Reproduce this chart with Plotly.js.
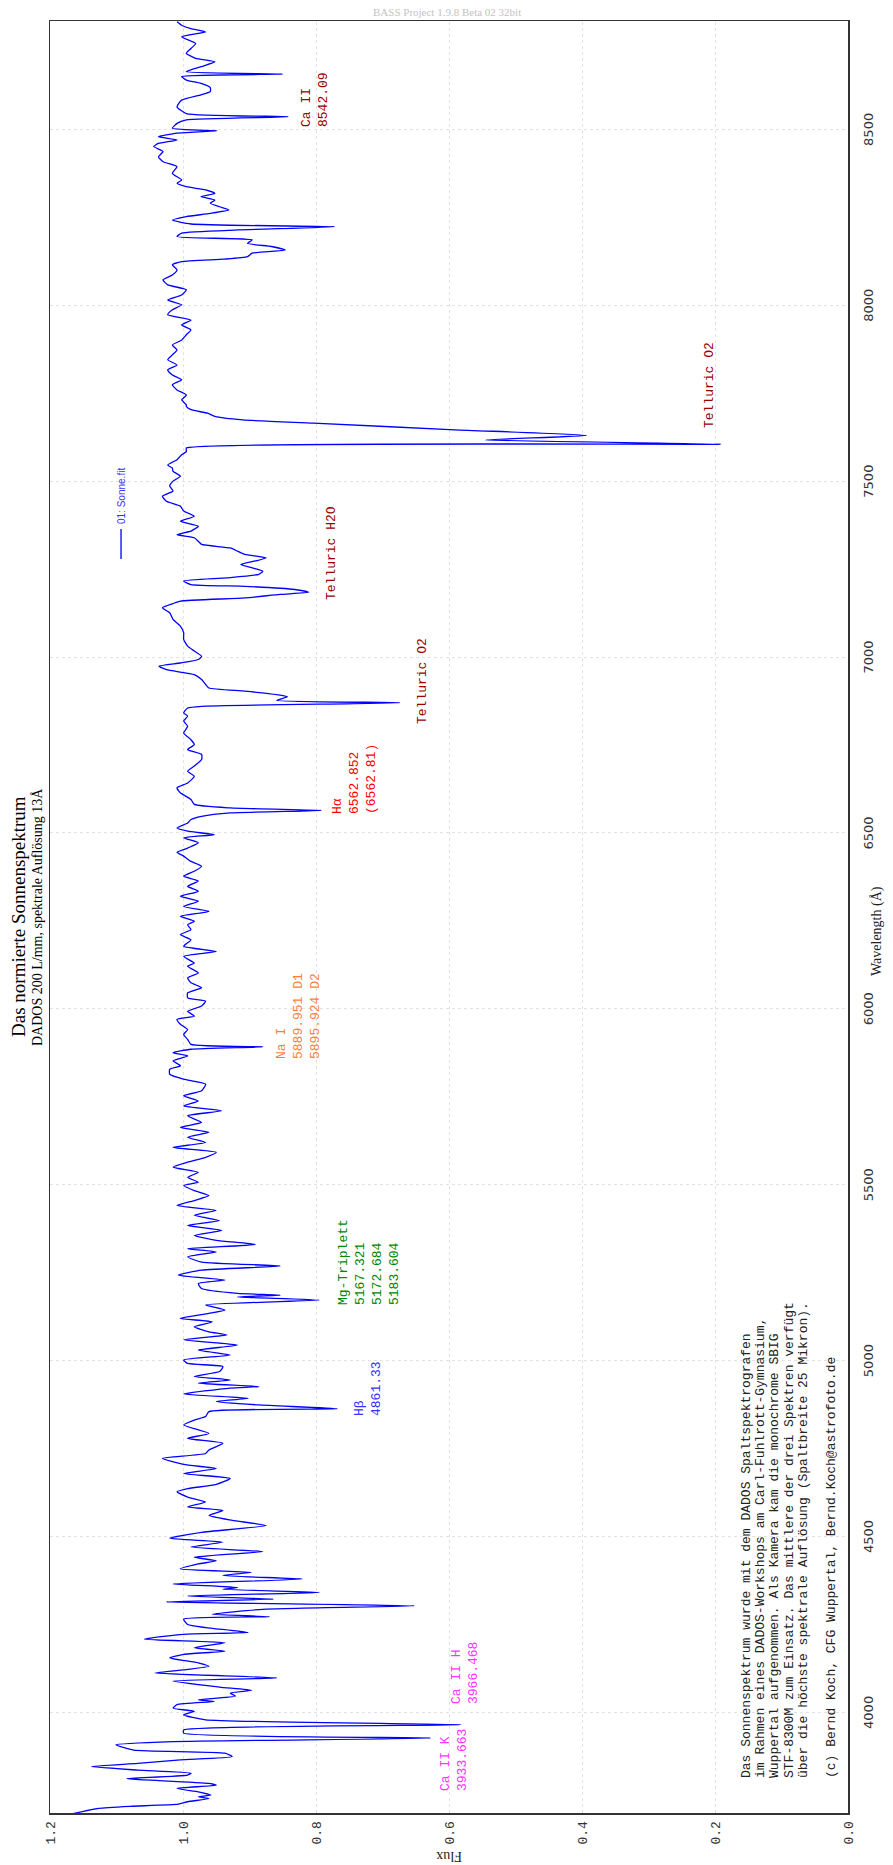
<!DOCTYPE html>
<html><head><meta charset="utf-8">
<script src="https://cdn.plot.ly/plotly-3.0.1.min.js"></script>
<style>
html,body{margin:0;padding:0;width:893px;height:1865px;overflow:hidden;background:#fff;}
#wrap{position:absolute;left:0;top:0;width:1865px;height:893px;transform-origin:0 0;transform:translate(0px,1865px) rotate(-90deg);}
</style></head><body>
<div id="wrap"><div id="chart" style="width:1865px;height:893px;"></div></div>
<script>
// Wavelength (Angstrom) and normalised flux
const wavelength = [
3712,3727,3733,3739,3746,3755,3760,3765,3774,3784,3793,3798,3808,3812,3822,3827,3836,3846,3855,3865,
3874,3884,3893,3908,3917,3927,3941,3950,3965,3979,3993,4003,4012,4022,4031,4036,4046,4055,4063,4072,
4089,4098,4112,4122,4131,4141,4155,4165,4174,4184,4198,4208,4222,4227,4241,4250,4265,4272,4279,4293,
4303,4314,4322,4331,4341,4350,4355,4365,4379,4389,4398,4408,4422,4431,4441,4457,4470,4484,4495,4512,
4531,4546,4560,4574,4584,4598,4612,4627,4636,4648,4665,4679,4693,4705,4722,4736,4746,4765,4779,4793,
4817,4831,4841,4855,4863,4874,4884,4893,4905,4922,
4926,4936,4945,4955,4969,4983,4992,5002,5016,5030,5044,5059,5073,5082,5096,5110,5120,5134,5144,5158,
5172,5181,5186,5191,5205,5219,5229,5243,5257,5269,5280,5295,5309,5318,5330,5342,5356,5370,5384,5398,
5413,5427,5441,5455,5469,5483,5498,5507,5521,5535,5550,5564,5578,5592,5606,5620,5635,5649,5663,5677,
5696,5710,5724,5738,5753,5767,5786,5800,5814,5828,5838,5852,5866,5875,5885,5892,5899,5913,5927,5941,
5956,5970,5979,5993,6008,6022,6031,6045,6060,6074,6088,6102,6121,6130,6149,6163,6178,6196,6211,6225,
6239,
6249,6263,6277,6291,6306,6320,6334,6348,6363,6377,6391,6405,6419,6434,6445,6457,6472,6486,6495,6505,
6514,6528,6538,6547,6557,6564,6571,6581,6595,6614,6628,6642,6661,6675,6690,6709,6723,6737,6751,6765,
6784,6803,6818,6832,6841,6855,6860,6870,6877,6887,6893,6903,6912,6922,6936,6950,6964,6974,6983,6993,
7002,7017,7031,7050,7069,7088,7107,7126,7140,7152,7159,7168,7178,7184,7192,7201,7206,7216,7225,7235,
7244,7254,7263,7273,7282,7292,7301,7310,7320,7329,7339,7348,7358,7372,7386,7400,7415,7429,7443,7457,
7472,7486,7500,7514,7528,
7537,7546,7561,7575,7584,7594,7605,7617,7630,7646,7665,7674,7684,7693,7703,7712,7717,7731,7745,7759,
7774,7788,7802,7816,7830,7845,7859,7873,7887,7901,7916,7930,7944,7958,7973,7987,8001,8015,8029,8044,
8058,8072,8086,8100,8115,8124,8131,8138,8148,8157,8167,8176,8186,8195,8205,8214,8223,8231,8242,8252,
8261,8271,8280,8290,8299,8309,8318,8328,8337,8347,8356,8375,8394,8408,8422,8437,8451,8460,8470,8479,
8489,8496,8503,8517,8527,8536,8545,8564,8583,8598,8607,8619,8631,8640,8650,8657,8664,8678,8692,8702,
8716,8730,8744,8763,8777,8786,8796,8806
];
const flux = [
1.166,1.127,1.079,1.007,0.993,0.961,0.977,0.958,0.977,1.009,0.950,0.961,1.058,1.085,0.993,0.988,1.068,1.138,1.068,1.004,
0.926,0.937,1.074,1.101,1.015,0.628,0.999,0.999,0.582,0.966,0.999,0.983,1.015,1.009,0.953,0.977,0.921,0.929,0.897,0.945,
1.015,0.859,1.042,0.993,0.961,0.977,1.020,0.999,0.937,0.983,0.937,1.058,0.999,0.902,0.966,0.993,0.999,0.870,0.956,0.880,
0.652,1.025,0.864,0.993,0.795,0.940,0.918,1.015,0.821,0.940,0.897,1.004,0.977,0.950,0.983,0.880,0.988,0.940,1.020,0.972,
0.875,0.926,0.961,0.940,0.993,0.966,0.993,1.009,0.993,0.950,0.929,0.999,0.950,0.999,1.031,0.966,0.961,0.940,0.993,0.961,
0.999,0.983,0.966,0.961,0.768,0.886,0.950,0.902,0.999,0.929,
0.886,0.977,0.929,0.983,0.945,0.940,0.993,0.999,0.929,0.977,0.918,0.999,0.934,0.961,0.983,0.956,1.004,0.961,0.937,0.966,
0.795,0.918,0.854,0.918,0.972,0.977,0.937,1.007,0.972,0.854,0.972,0.993,0.950,0.993,0.891,0.950,0.983,0.942,0.993,0.945,
0.983,0.950,1.009,0.983,0.961,0.983,0.999,0.977,0.993,0.977,1.015,0.993,0.966,0.950,1.015,0.966,0.993,0.961,1.004,0.972,
0.993,0.942,0.999,0.977,0.999,0.972,0.966,0.999,1.020,1.020,1.004,1.015,0.993,1.015,0.988,0.880,0.988,0.993,0.999,0.993,
1.004,1.009,0.983,0.993,0.972,0.966,0.993,0.993,0.972,0.988,0.993,0.977,0.993,0.983,0.999,0.950,0.999,0.988,1.004,0.988,
0.993,
0.983,1.004,0.961,0.999,0.977,1.004,0.977,0.993,0.977,0.999,0.983,0.972,0.988,0.999,1.009,0.993,0.977,0.999,0.953,0.993,
1.009,0.993,0.988,0.972,0.929,0.792,0.929,0.983,0.988,1.004,1.009,0.993,0.983,0.993,0.983,0.972,0.972,0.993,0.983,0.988,
0.999,0.993,0.999,0.993,0.999,0.993,0.972,0.674,0.859,0.843,0.859,0.907,0.961,0.966,0.972,0.983,1.025,1.036,1.004,0.977,
0.972,0.983,0.993,0.999,0.999,1.004,1.015,1.020,1.031,1.015,1.004,0.907,0.854,0.811,0.832,0.907,0.988,0.999,0.934,0.886,
0.880,0.897,0.913,0.891,0.875,0.907,0.918,0.929,0.972,0.977,0.983,1.009,0.988,0.977,1.004,0.983,0.999,1.004,1.025,1.031,
1.015,1.020,1.015,1.004,1.015,
1.016,1.023,1.009,1.002,0.995,0.995,0.191,0.545,0.393,0.591,0.804,0.910,0.952,0.963,0.988,0.995,0.995,1.002,0.995,1.009,
1.016,1.002,1.016,1.023,1.009,1.023,1.016,1.009,1.016,1.002,0.995,0.988,1.002,0.988,1.023,1.016,1.002,1.023,1.002,0.995,
1.023,1.030,1.016,1.009,1.016,1.002,0.938,0.903,0.896,0.846,0.867,0.903,0.896,1.009,1.002,0.917,0.772,0.988,1.016,0.995,
0.959,0.931,0.945,0.959,0.952,0.973,0.952,0.966,0.995,1.009,1.002,1.016,1.009,1.030,1.037,1.030,1.044,1.037,1.009,1.037,
1.009,0.949,1.016,1.009,0.995,0.842,0.995,1.009,1.002,0.973,0.959,0.959,0.973,0.995,1.002,0.850,0.995,0.973,0.952,0.981,
0.995,0.988,0.981,1.002,0.966,0.988,1.002,1.009
];
const seriesName = "01: Sonne.fit";
const xTickValues = [4000,4500,5000,5500,6000,6500,7000,7500,8000,8500];
const yTickValues = [0,0.2,0.4,0.6,0.8,1.0,1.2];
const yTickLabels = ["0.0","0.2","0.4","0.6","0.8","1.0","1.2"];
const titleText = "Das normierte Sonnenspektrum";
const subtitleText = "DADOS 200 L/mm, spektrale Auflösung 13Å";
const xTitle = "Wavelength (Å)";
const yTitle = "Flux";
const noteLines = [
"Das Sonnenspektrum wurde mit dem DADOS Spaltspektrografen",
"im Rahmen eines DADOS-Workshops am Carl-Fuhlrott-Gymnasium,",
"Wuppertal aufgenommen. Als Kamera kam die monochrome SBIG",
"STF-8300M zum Einsatz. Das mittlere der drei Spektren verfügt",
"über die höchste spektrale Auflösung (Spaltbreite 25 Mikron).",
"",
"(c) Bernd Koch, CFG Wuppertal, Bernd.Koch@astrofoto.de"
];
const lineLabels = [
 {text:"Ca II K<br>3933.663", color:"#ff33ff"},
 {text:"Ca II H<br>3966.468", color:"#ff33ff"},
 {text:"Hβ<br>4861.33", color:"#3333ff"},
 {text:"Mg-Triplett<br>5167.321<br>5172.684<br>5183.604", color:"#008800"},
 {text:"Na I<br>5889.951 D1<br>5895.924 D2", color:"#ff7f3f"},
 {text:"Hα<br>6562.852<br>(6562.81)", color:"#ff0000"},
 {text:"Telluric O2", color:"#990000"},
 {text:"Telluric H2O", color:"#990000"},
 {text:"Telluric O2", color:"#990000"},
 {text:"Ca II<br>8542.09", color:"#990000"}
];
const footerText = "BASS Project 1.9.8 Beta 02 32bit";

// label anchor positions (wavelength of text start, flux of block centre)
const labelPos = [[3770,0.592],[4017,0.576],[4836,0.722],[5153,0.721],[5852,0.827],[6547,0.742],[6803,0.640],[7156,0.777],[7646,0.209],[8500,0.801]];

const mono = "Liberation Mono, Courier New, monospace";
const serif = "Liberation Serif, Times New Roman, serif";
const H = 893, T = 50, B = 45, PH = H - T - B;
function py(ly){ return 1 - (ly - T)/PH; }
const annotations = [];
lineLabels.forEach((l,i)=>{
  annotations.push({x:labelPos[i][0], y:labelPos[i][1], xref:'x', yref:'y', text:l.text, showarrow:false,
    xanchor:'left', yanchor:'middle', align:'left', font:{family:mono, size:13, color:l.color}});
});
const noteY = [746,760,774,789,803,817,831];
noteLines.forEach((t,i)=>{
  if(!t) return;
  annotations.push({x:3809, y:(848-noteY[i])/665, xref:'x', yref:'y', text:t, showarrow:false,
    xanchor:'left', yanchor:'middle', align:'left', font:{family:mono, size:13, color:'#222'}});
});
annotations.push({x:0.5, y:py(19), xref:'paper', yref:'paper', text:titleText, showarrow:false,
  xanchor:'center', yanchor:'middle', font:{family:serif, size:19, color:'#000'}});
annotations.push({x:0.5, y:py(38), xref:'paper', yref:'paper', text:subtitleText, showarrow:false,
  xanchor:'center', yanchor:'middle', font:{family:serif, size:14, color:'#000'}});
annotations.push({x:0.492, y:py(877), xref:'paper', yref:'paper', text:xTitle, showarrow:false,
  xanchor:'center', yanchor:'middle', font:{family:serif, size:14, color:'#222'}});
annotations.push({x:-44/1792, y:py(449), xref:'paper', yref:'paper', text:yTitle, showarrow:false, textangle:-90,
  xanchor:'center', yanchor:'middle', font:{family:serif, size:14, color:'#222'}});
annotations.push({x:1+9/1792, y:py(447), xref:'paper', yref:'paper', text:footerText, showarrow:false, textangle:90,
  xanchor:'center', yanchor:'middle', font:{family:serif, size:11, color:'#c4c4c4'}});

const trace = {x:wavelength, y:flux, type:'scatter', mode:'lines', name:seriesName,
  line:{color:'#0000ff', width:1.3, shape:'spline', smoothing:0.5}};

const layout = {
  width:1865, height:893,
  margin:{l:52, r:21, t:T, b:B},
  paper_bgcolor:'#fff', plot_bgcolor:'#fff',
  showlegend:true,
  legend:{x:0.697, y:0.911, xanchor:'left', yanchor:'middle', bgcolor:'rgba(0,0,0,0)', borderwidth:0,
    font:{family:'Liberation Sans, Arial, sans-serif', size:10, color:'#3333ff'}, itemwidth:30},
  xaxis:{range:[3714,8808], tickvals:xTickValues, showgrid:true, gridcolor:'#e2e2e2', griddash:'dot', gridwidth:1,
    showline:true, mirror:true, linecolor:'#333', linewidth:1.5, zeroline:false, ticks:'',
    tickfont:{family:'DejaVu Sans, Verdana, sans-serif', size:13, color:'#333'}, ticklabelstandoff:8},
  yaxis:{range:[0,1.2], tickvals:yTickValues, ticktext:yTickLabels, showgrid:true, gridcolor:'#e2e2e2', griddash:'dot', gridwidth:1,
    showline:true, mirror:true, linecolor:'#333', linewidth:1.5, zeroline:false, ticks:'',
    tickfont:{family:mono, size:13, color:'#333'}, ticklabelstandoff:4},
  annotations:annotations
};
Plotly.newPlot('chart',[trace],layout,{displayModeBar:false, staticPlot:true});
</script>
</body></html>
